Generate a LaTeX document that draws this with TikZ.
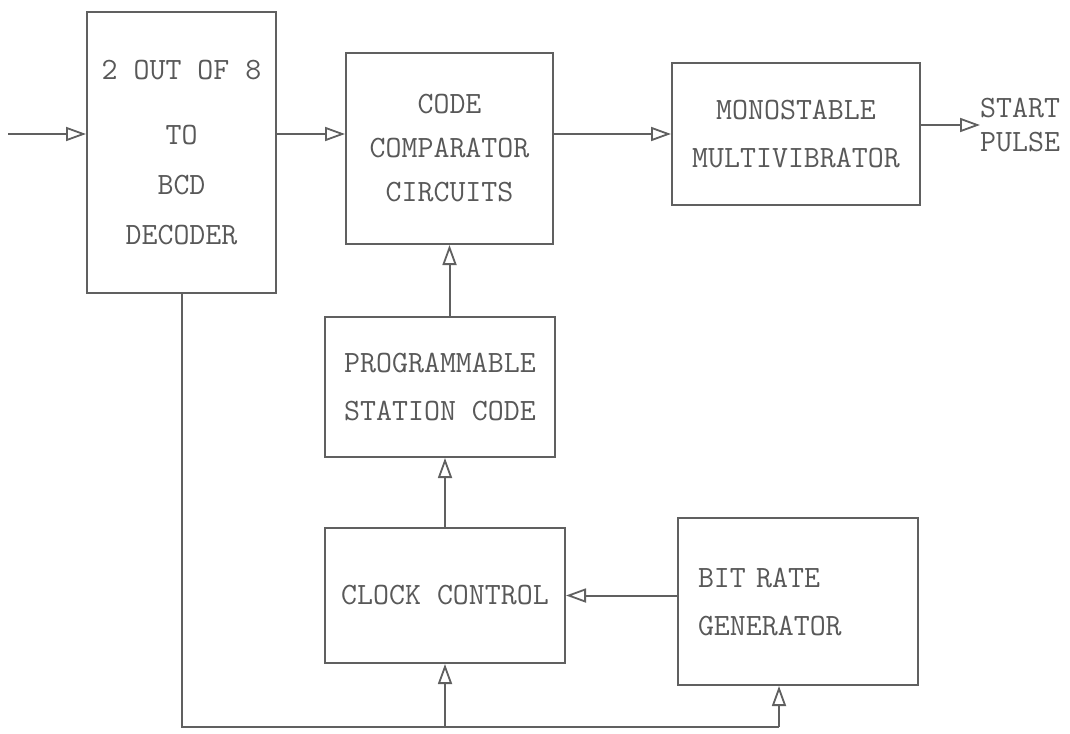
\documentclass[tikz,border=0pt]{standalone}
\usepackage{tikz}
\usetikzlibrary{arrows.meta,positioning,calc}
\definecolor{inkgray}{HTML}{585858}
\definecolor{linegray}{HTML}{606060}
\tikzset{
  >={Triangle[open,length=20pt,width=14pt,line width=1.8pt]},
  % blocks
  blk/.style={draw=linegray,line width=2pt,inner sep=0pt,align=center,
              text=inkgray,font=\ttfamily\fontsize{31}{48}\selectfont},
  % connectors
  ln/.style={draw=linegray,line width=2pt},
  arr/.style={->,draw=linegray,line width=2pt},
  lbl/.style={text=inkgray,font=\ttfamily\fontsize{31}{34}\selectfont,inner sep=0pt},
}
\begin{document}
\begin{tikzpicture}[x=1pt,y=-1pt]
  \useasboundingbox (0,0) rectangle (1070,733);
  % top row
  \node[blk,minimum width=189pt,minimum height=281pt,
        font=\ttfamily\fontsize{31}{50}\selectfont] (dec) at (181.5,152.5)
     {2 OUT OF 8\\[15pt]TO\\BCD\\DECODER};
  \node[blk,minimum width=207pt,minimum height=191pt,
        font=\ttfamily\fontsize{31}{44}\selectfont] (cmp) at (449.5,148.5)
     {CODE\\COMPARATOR\\CIRCUITS};
  \node[blk,minimum width=248pt,minimum height=142pt] (mono) at (796,134)
     {MONOSTABLE\\MULTIVIBRATOR};
  \node[lbl,anchor=west,align=left] (sp) at (980,125) {START\\PULSE};
  % middle and bottom
  \node[blk,minimum width=230pt,minimum height=140pt] (psc) at (440,387)
     {PROGRAMMABLE\\STATION CODE};
  \node[blk,minimum width=240pt,minimum height=135pt] (clk) at (445,595.5)
     {CLOCK CONTROL};
  \node[blk,minimum height=167pt,align=left,text width=200pt,inner xsep=20pt] (brg) at (798,601.5)
     {BIT RATE\\GENERATOR};
  % connectors
  \coordinate (in) at (8,134);
  \coordinate (tap) at (779,727);
  \draw[arr] (in) -- (in -| dec.west);
  \draw[arr] (dec.east |- mono.west) -- (cmp.west |- mono.west);
  \draw[arr] (cmp.east |- mono.west) -- (mono.west);
  \draw[arr] (mono.east |- sp.west) -- (sp.west);
  \draw[arr] (cmp.south |- psc.north) -- (cmp.south);
  \draw[arr] (clk.north) -- (clk.north |- psc.south);
  \draw[arr] (brg.west |- clk.east) -- (clk.east);
  \draw[ln] (dec.south) |- (tap);
  \draw[arr] (clk.south |- tap) -- (clk.south);
  \draw[arr] (tap) -- (tap |- brg.south);
\end{tikzpicture}
\end{document}
